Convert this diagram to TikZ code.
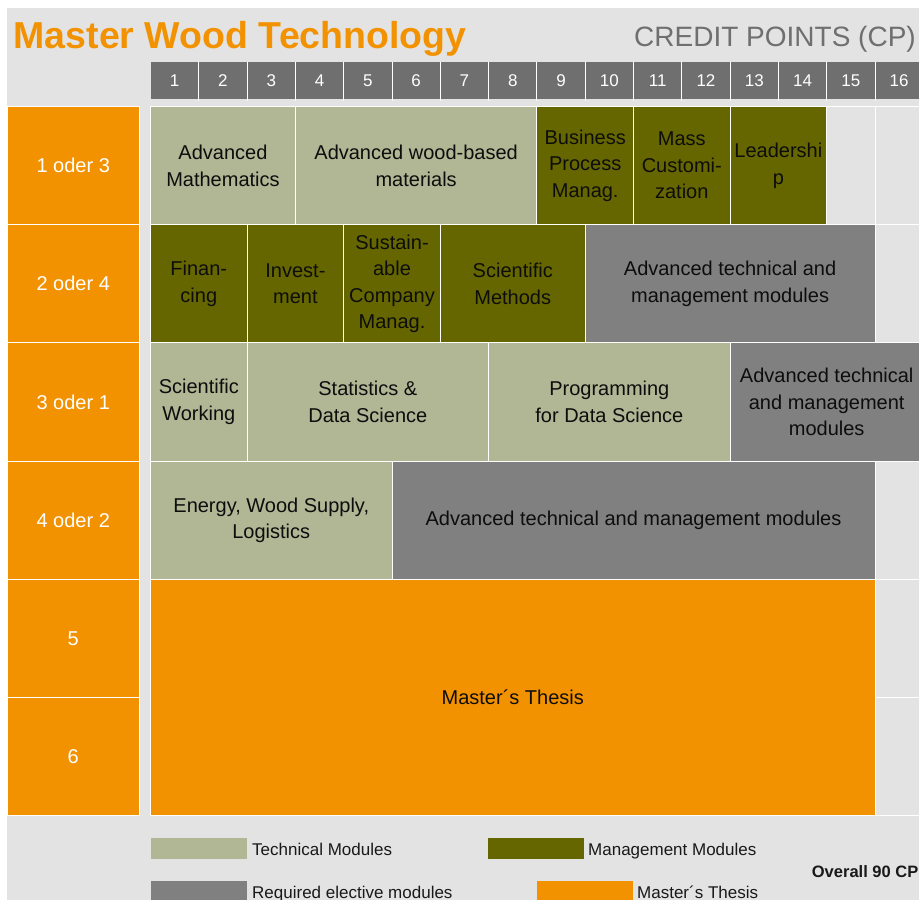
\documentclass[tikz,border=0pt]{standalone}
\usepackage{fontspec}
\setmainfont{Liberation Sans}
\usetikzlibrary{positioning}
\definecolor{bggrey}{HTML}{E3E3E3}
\definecolor{headgrey}{HTML}{6F6F6F}
\definecolor{techgreen}{HTML}{B1B694}
\definecolor{mgmtolive}{HTML}{666600}
\definecolor{electgrey}{HTML}{808080}
\definecolor{thesisorange}{HTML}{F39200}

\begin{document}
\begin{tikzpicture}[x=1pt,y=-1pt,
  node distance=0pt,
  cell/.style={draw=white,line width=1pt,anchor=north west,inner sep=0pt,outer sep=0pt,minimum width=#1*48.3pt,minimum height=118.2pt,align=center,text=black!95,font=\fontsize{20}{26.6}\selectfont},
  tech/.style={cell=#1,fill=techgreen},
  mgmt/.style={cell=#1,fill=mgmtolive},
  elect/.style={cell=#1,fill=electgrey},
  thesis/.style={cell=#1,fill=thesisorange,minimum height=236.4pt},
  empty/.style={cell=1,fill=bggrey},
  sem/.style={draw=white,line width=1pt,fill=thesisorange,inner sep=0pt,outer sep=0pt,minimum width=132.5pt,minimum height=118.2pt,text=white,font=\fontsize{20}{24}\selectfont},
  head/.style={fill=headgrey,anchor=north west,inner sep=0pt,outer sep=0pt,minimum width=48.3pt,minimum height=36.5pt,text=white,font=\fontsize{17}{20}\selectfont},
  legbox/.style={anchor=north west,inner sep=0pt,outer sep=0pt,minimum width=96pt,minimum height=21pt},
  legtext/.style={inner sep=0pt,text height=12.3pt,text depth=0pt,yshift=-1pt,text=black!90,font=\fontsize{17}{20}\selectfont}]
\useasboundingbox[fill=white] (0,0) rectangle (919,900);
\fill[bggrey] (7,8) rectangle (919,900);

% title line
\node[anchor=base west,inner sep=0pt,text=thesisorange,font=\bfseries\fontsize{37.5}{40}\selectfont] (title) at (13.5,48) {Master Wood Technology};
\node[anchor=base east,inner sep=0pt,text=headgrey,font=\fontsize{28}{30}\selectfont] (cp) at (916,46.7) {CREDIT POINTS (CP)};

% credit point header
\foreach \c in {1,...,16}
  \node[head] (h\c) at ({150.5+48.3*(\c-1)},62) {\c};
\foreach \c in {1,...,15}
  \draw[white,line width=1pt] (h\c.north east) -- ++(0,39);

% semesters
\node[sem,anchor=north west] (sem1) at (7,106.5) {1 oder 3};
\node[sem,below=of sem1] (sem2) {2 oder 4};
\node[sem,below=of sem2] (sem3) {3 oder 1};
\node[sem,below=of sem3] (sem4) {4 oder 2};
\node[sem,below=of sem4] (sem5) {5};
\node[sem,below=of sem5] (sem6) {6};

% module grid, one unit = 1 CP / one semester
\begin{scope}[xshift=150.5pt,yshift=-106.5pt,x=48.3pt,y=-118.2pt]
\node[tech=3] (advmath) at (0,0) {Advanced\\Mathematics};
\node[tech=5] (woodmat) at (3,0) {Advanced wood-based\\materials};
\node[mgmt=2] (bpm) at (8,0) {Business\\Process\\Manag.};
\node[mgmt=2] (masscust) at (10,0) {Mass\\Customi-\\zation};
\node[mgmt=2] (leader) at (12,0) {Leadershi\\p};
\node[empty] (e1a) at (14,0) {};
\node[empty] (e1b) at (15,0) {};

\node[mgmt=2] (finance) at (0,1) {Finan-\\cing};
\node[mgmt=2] (invest) at (2,1) {Invest-\\ment};
\node[mgmt=2] (scm) at (4,1) {Sustain-\\able\\Company\\Manag.};
\node[mgmt=3] (scimeth) at (6,1) {Scientific\\Methods};
\node[elect=6] (elect2) at (9,1) {Advanced technical and\\management modules};
\node[empty] (e2) at (15,1) {};

\node[tech=2] (sciwork) at (0,2) {Scientific\\Working};
\node[tech=5] (stats) at (2,2) {Statistics \&\\Data Science};
\node[tech=5] (prog) at (7,2) {Programming\\for Data Science};
\node[elect=4] (elect3) at (12,2) {Advanced technical\\and management\\modules};

\node[tech=5] (energy) at (0,3) {Energy, Wood Supply,\\Logistics};
\node[elect=10] (elect4) at (5,3) {Advanced technical and management modules};
\node[empty] (e4) at (15,3) {};

\node[thesis=15] (thesis) at (0,4) {Master´s Thesis};
\node[empty] (e5) at (15,4) {};
\node[empty] (e6) at (15,5) {};
\end{scope}

% legend
\node[legbox,fill=techgreen] (legtech) at (151,838) {};
\node[legtext,right=5pt of legtech] (ltech) {Technical Modules};
\node[legbox,fill=mgmtolive] (legmgmt) at (488,838) {};
\node[legtext,right=4pt of legmgmt] (lmgmt) {Management Modules};
\node[legbox,fill=electgrey] (legelect) at (151,881) {};
\node[legtext,right=5pt of legelect] (lelect) {Required elective modules};
\node[legbox,fill=thesisorange] (legthesis) at (537,881) {};
\node[legtext,right=4pt of legthesis] (lthesis) {Master´s Thesis};
\node[anchor=base east,inner sep=0pt,text=black!90,font=\bfseries\fontsize{16.5}{20}\selectfont] (overall) at (918.5,877) {Overall 90 CP};
\end{tikzpicture}
\end{document}
